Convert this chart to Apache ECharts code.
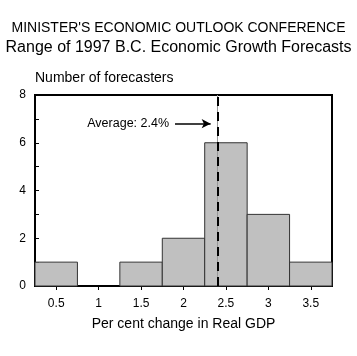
<!DOCTYPE html>
<html><head><meta charset="utf-8">
<script src="https://cdn.jsdelivr.net/npm/echarts@6/dist/echarts.min.js"></script>
<style>html,body{margin:0;padding:0;background:#fff}#c{width:357px;height:356px}</style>
</head><body><div id="c"></div>
<script>
var binStart = [0.25, 0.75, 1.25, 1.75, 2.25, 2.75, 3.25];
var binEnd   = [0.75, 1.25, 1.75, 2.25, 2.75, 3.25, 3.75];
var counts   = [1, 0, 1, 2, 6, 3, 1];
var xTicks = [0.5, 1, 1.5, 2, 2.5, 3, 3.5];
var averageValue = 2.4;
var arrowFrom = [1.9, 6.8];
var arrowTo = [2.32, 6.8];

var data = binStart.map(function (s, i) { return [s, binEnd[i], counts[i]]; });
var F = 'Liberation Sans, Arial, Helvetica, sans-serif';
var chart = echarts.init(document.getElementById('c'));
chart.setOption({
  animation: false,
  textStyle: { fontFamily: F, color: '#000' },
  title: [
    { text: "MINISTER'S ECONOMIC OUTLOOK CONFERENCE", left: 'center', top: 16,
      textStyle: { fontFamily: F, fontSize: 14, fontWeight: 'normal', color: '#000' } },
    { text: 'Range of 1997 B.C. Economic Growth Forecasts', left: 'center', top: 35,
      textStyle: { fontFamily: F, fontSize: 16, fontWeight: 'normal', color: '#000' } }
  ],
  grid: { left: 35, right: 25, top: 95, bottom: 70, show: true, borderColor: '#000', borderWidth: 2, backgroundColor: 'transparent' },
  xAxis: {
    type: 'value', min: 0.25, max: 3.75,
    name: 'Per cent change in Real GDP', nameLocation: 'middle', nameGap: 31,
    nameTextStyle: { fontFamily: F, fontSize: 14, color: '#000' },
    axisLine: { show: true, lineStyle: { color: '#000', width: 2 } },
    axisTick: { show: true, customValues: xTicks, length: 4, lineStyle: { color: '#000' } },
    axisLabel: { customValues: xTicks, margin: 12, fontFamily: F, fontSize: 12, color: '#000',
      formatter: function (v) { return String(v); } },
    splitLine: { show: false }
  },
  yAxis: {
    type: 'value', min: 0, max: 8, interval: 2,
    name: 'Number of forecasters', nameLocation: 'end', nameGap: 10,
    nameTextStyle: { fontFamily: F, fontSize: 14, color: '#000', align: 'left' },
    axisLine: { show: true, lineStyle: { color: '#000', width: 2 } },
    axisTick: { show: true, inside: false, length: -4, lineStyle: { color: '#000' } },
    minorTick: { show: true, splitNumber: 2, length: -4, lineStyle: { color: '#000' } },
    axisLabel: { margin: 9, fontFamily: F, fontSize: 12, color: '#000' },
    splitLine: { show: false }
  },
  series: [{
    type: 'custom',
    data: data,
    renderItem: function (params, api) {
      var p0 = api.coord([api.value(0), api.value(2)]);
      var p1 = api.coord([api.value(1), 0]);
      if (api.value(2) <= 0) return null;
      return {
        type: 'rect',
        shape: { x: p0[0], y: p0[1], width: p1[0] - p0[0], height: p1[1] - p0[1] },
        style: { fill: '#c0c0c0', stroke: '#333', lineWidth: 1 }
      };
    },
    markLine: {
      silent: true, symbol: 'none', animation: false,
      data: [
        { xAxis: averageValue, lineStyle: { color: '#999', width: 1, type: 'solid' }, label: { show: false } },
        { xAxis: averageValue, lineStyle: { color: '#000', width: 2, type: [9, 6] }, label: { show: false } },
        [
          { coord: arrowFrom, symbol: 'none', lineStyle: { color: '#000', width: 1.5, type: 'solid' },
            label: { show: true, position: 'start', formatter: 'Average: 2.4%', fontFamily: F, fontSize: 12.5, color: '#000', distance: 6 } },
          { coord: arrowTo, symbol: 'arrow', symbolSize: [7, 9] }
        ]
      ]
    }
  }]
});
</script></body></html>
